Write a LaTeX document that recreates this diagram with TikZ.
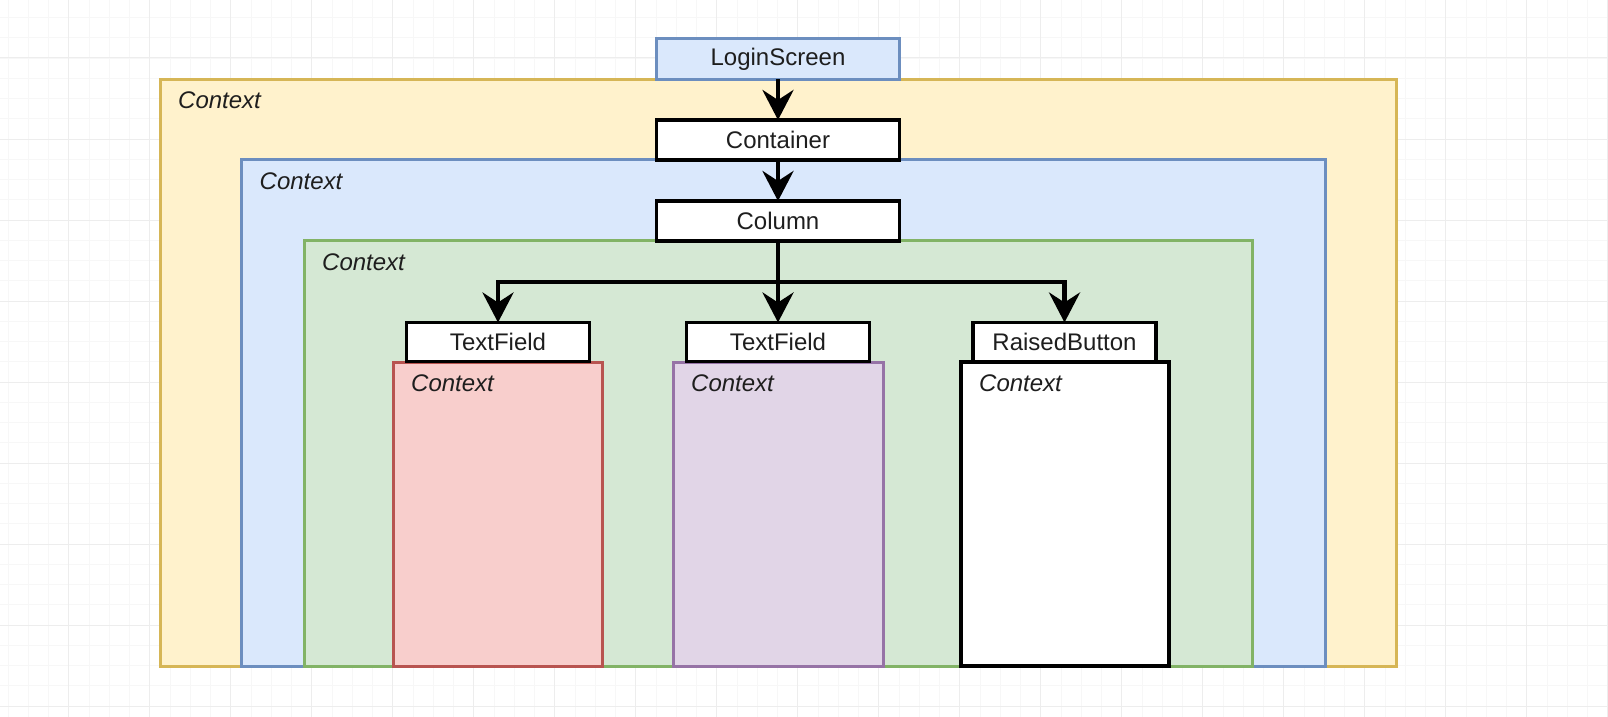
\documentclass[tikz,border=0pt]{standalone}
\usepackage{fontspec}
\setmainfont{Liberation Sans}
\usetikzlibrary{arrows.meta}
\definecolor{ylwF}{HTML}{FFF2CC}\definecolor{ylwD}{HTML}{D6B656}
\definecolor{bluF}{HTML}{DAE8FC}\definecolor{bluD}{HTML}{6C8EBF}
\definecolor{grnF}{HTML}{D5E8D4}\definecolor{grnD}{HTML}{82B366}
\definecolor{redF}{HTML}{F8CECC}\definecolor{redD}{HTML}{B85450}
\definecolor{purF}{HTML}{E1D5E7}\definecolor{purD}{HTML}{9673A6}
\definecolor{txt}{HTML}{1E1E1E}
\definecolor{gridMinor}{HTML}{F7F7F7}
\definecolor{gridMajor}{HTML}{EDEDED}
\tikzset{
  ctxbox/.style={line width=3pt},
  ctxlabel/.style={anchor=base west, inner sep=0pt, text=txt, font=\fontsize{24}{28}\selectfont\itshape},
  lblbox/.style={draw=black, fill=white, line width=3.5pt, inner sep=0pt, outer sep=0pt,
     minimum width=183pt, minimum height=39pt, text=txt, font=\fontsize{24}{28}\selectfont},
  conn/.style={line width=4.5pt, draw=black, -{Stealth[length=30pt,width=31pt,inset=10pt]}}
}
\begin{document}
\begin{tikzpicture}[x=1pt,y=-1pt]
\useasboundingbox (0,0) rectangle (1608,717);
\fill[white] (0,0) rectangle (1608,717);
% grid
\foreach \i in {0,...,80} {
  \draw[gridMinor, line width=0.8pt] ({7.95+20.25*\i},0) -- ({7.95+20.25*\i},717);
}
\foreach \i in {0,...,36} {
  \draw[gridMinor, line width=0.8pt] (0,{17.5+20.25*\i}) -- (1608,{17.5+20.25*\i});
}
\foreach \i in {0,...,19} {
  \draw[gridMajor, line width=1pt] ({68.7+81*\i},0) -- ({68.7+81*\i},717);
}
\foreach \i in {0,...,8} {
  \draw[gridMajor, line width=1pt] (0,{58+81*\i}) -- (1608,{58+81*\i});
}
% context containers
\draw[ctxbox, draw=ylwD, fill=ylwF] (160,79) rectangle (1396,666);
\node[ctxlabel] (c1) at (178,108.5) {Context};
\draw[ctxbox, draw=bluD, fill=bluF] (241.5,159.5) rectangle (1325.5,666);
\node[ctxlabel] (c2) at (259.5,189) {Context};
\draw[ctxbox, draw=grnD, fill=grnF] (304,240.5) rectangle (1252,666);
\node[ctxlabel] (c3) at (322,270) {Context};
\draw[ctxbox, draw=redD, fill=redF] (393,362) rectangle (602.5,666);
\node[ctxlabel] (c4) at (411,391.5) {Context};
\draw[ctxbox, draw=purD, fill=purF] (673,362) rectangle (883,666);
\node[ctxlabel] (c5) at (691,391.5) {Context};
\draw[ctxbox, draw=black, line width=3.5pt, fill=white] (961,362) rectangle (1169,666);
\node[ctxlabel] (c6) at (979,391.5) {Context};
% widget boxes
\node[lblbox, draw=bluD, fill=bluF, line width=3pt, minimum width=243pt, minimum height=40pt] (login) at (778,59) {LoginScreen};
\node[lblbox, minimum width=243pt, minimum height=40pt] (cont) at (778,140) {Container};
\node[lblbox, minimum width=243pt, minimum height=40pt] (col) at (778,221) {Column};
\node[lblbox] (tf1) at (498,342) {TextField};
\node[lblbox] (tf2) at (778,342) {TextField};
\node[lblbox] (rb) at (1064.5,342) {RaisedButton};
% connectors
\coordinate (split) at (778,282);
\draw[conn] (login.south) -- (cont.north);
\draw[conn] (cont.south) -- (col.north);
\draw[conn] (col.south) -- (split) -| (tf1.north);
\draw[conn] (col.south) -- (tf2.north);
\draw[conn] (col.south) -- (split) -| (rb.north);
\end{tikzpicture}
\end{document}
